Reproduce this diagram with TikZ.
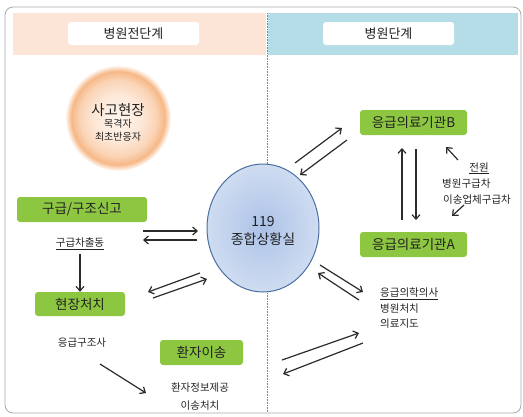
\documentclass[tikz,border=0pt]{standalone}
\usepackage{fontspec}
\setmainfont{Noto Sans CJK KR}
\usetikzlibrary{arrows.meta,shapes.geometric}
\definecolor{peach}{HTML}{FCE4D6}
\definecolor{skyband}{HTML}{B5DDE8}
\definecolor{boxgreen}{HTML}{8DC641}
\definecolor{arrowgray}{HTML}{2B2B2B}
\definecolor{txt}{HTML}{222222}
\definecolor{framegray}{HTML}{A8A8A8}
\definecolor{ringblue}{HTML}{4A70A2}
\definecolor{orA}{HTML}{FEF5EE}
\definecolor{orB}{HTML}{FDE8D8}
\definecolor{orC}{HTML}{FAD4B6}
\definecolor{orD}{HTML}{F6B887}
\definecolor{blA}{HTML}{A9C0E6}
\definecolor{blB}{HTML}{B9CCEB}
\definecolor{blC}{HTML}{CFDCF1}
\pgfdeclareradialshading{orangeglow}{\pgfpoint{0bp}{0bp}}{%
  color(0bp)=(orA); color(11bp)=(orB); color(18bp)=(orC);
  color(22bp)=(orD); color(25bp)=(white); color(50bp)=(white)}
\pgfdeclareradialshading{blueglow}{\pgfpoint{0bp}{0bp}}{%
  color(0bp)=(blA); color(9bp)=(blB); color(25bp)=(blC); color(50bp)=(blC)}
\begin{document}
\begin{tikzpicture}[x=1pt,y=-1pt,
  every node/.style={text=txt},
  greenbox/.style={fill=boxgreen, rounded corners=3pt, inner sep=0pt, minimum height=25pt, font=\fontsize{13.5}{16}\selectfont},
  hdrbox/.style={fill=white, rounded corners=3pt, inner sep=0pt, minimum width=131pt, minimum height=23pt, font=\fontsize{13}{15}\selectfont},
  small/.style={font=\fontsize{10.5}{12}\selectfont, inner sep=0pt},
  arr/.style={draw=arrowgray, line width=1.2pt, -{Straight Barb[length=4.5pt,width=8pt]}}
]
\useasboundingbox (0,0) rectangle (523,416);
% frame and bands
\fill[peach] (13,13) rectangle (266,55);
\fill[skyband] (268,13) rectangle (518,55);
\draw[framegray, line width=0.8pt, rounded corners=8pt] (5,7) rectangle (521,413);
\draw[gray, densely dotted, line width=0.6pt] (267,13) -- (267,412);
\node[hdrbox] (h1) at (133.5,33.5) {병원전단계};
\node[hdrbox] (h2) at (388.5,33.5) {병원단계};

% accident scene circle
\node[circle, minimum size=106pt, shading=orangeglow, inner sep=0pt] (scene) at (118,118) {};
\node[font=\fontsize{14.5}{17}\selectfont, inner sep=0pt] (sceneT) at (118,110) {사고현장};
\node[font=\fontsize{10}{12}\selectfont, inner sep=0pt] (sceneW) at (118,124) {목격자};
\node[font=\fontsize{10}{12}\selectfont, inner sep=0pt] (sceneF) at (118,137) {최초반응자};

% central circle
\node[ellipse, minimum width=112pt, minimum height=128pt, shading=blueglow, inner sep=0pt] (center) at (263,228) {};
\draw[ringblue, line width=1pt] (263,228) ellipse [x radius=56, y radius=64];
\node[font=\fontsize{14}{18}\selectfont, align=center, inner sep=0pt] (centerT) at (263,231) {119\\종합상황실};

% left side boxes
\node[greenbox, minimum width=130pt] (report) at (82,209.5) {구급/구조신고};
\node[small] (dispatch) at (80,244) {\underline{구급차출동}};
\node[greenbox, minimum width=90pt, minimum height=24pt] (scenecare) at (80,304) {현장처치};
\node[small] (emt) at (82,343) {응급구조사};
\node[greenbox, minimum width=83pt] (transfer) at (201.5,352.5) {환자이송};
\node[small] (info1) at (200,388) {환자정보제공};
\node[small] (info2) at (200,406) {이송처치};

% right side boxes
\node[greenbox, minimum width=107pt] (hospB) at (413.5,122.5) {응급의료기관B};
\node[greenbox, minimum width=107pt] (hospA) at (413.5,244.5) {응급의료기관A};
\node[small] (tr1) at (479,168) {\underline{전원}};
\node[small, anchor=west] (tr2) at (442,184) {병원구급차};
\node[small, anchor=west] (tr3) at (443,200) {이송업체구급차};
\node[small, anchor=west] (doc1) at (380,294) {\underline{응급의학의사}};
\node[small, anchor=west] (doc2) at (380,309) {병원처치};
\node[small, anchor=west] (doc3) at (380,324) {의료지도};

% coordinates for free arrows
\coordinate (a1s) at (143,231); \coordinate (a1e) at (198,231);
\coordinate (a2s) at (197,240); \coordinate (a2e) at (143,240);
\coordinate (a3s) at (200,273); \coordinate (a3e) at (148,292);
\coordinate (a4s) at (153,298); \coordinate (a4e) at (207,279);
\coordinate (a5s) at (295,163); \coordinate (a5e) at (342,128);
\coordinate (a6s) at (347,140); \coordinate (a6e) at (300,175);
\coordinate (a7s) at (402,220); \coordinate (a7e) at (402,148);
\coordinate (a8s) at (416,149); \coordinate (a8e) at (416,220);
\coordinate (a9s) at (458,160); \coordinate (a9e) at (446,147);
\coordinate (a10s) at (464,205); \coordinate (a10e) at (452,216);
\coordinate (a11s) at (320,265); \coordinate (a11e) at (363,292);
\coordinate (a12s) at (359,300); \coordinate (a12e) at (318,273);
\coordinate (a13s) at (282,360); \coordinate (a13e) at (359,333);
\coordinate (a14s) at (363,343); \coordinate (a14e) at (283,374);
\coordinate (a15s) at (100,364); \coordinate (a15e) at (146,393);

\draw[arr] (a1s) -- (a1e);
\draw[arr] (a2s) -- (a2e);
\draw[arr] (a3s) -- (a3e);
\draw[arr] (a4s) -- (a4e);
\draw[arr] (a5s) -- (a5e);
\draw[arr] (a6s) -- (a6e);
\draw[arr] (a7s) -- (a7e);
\draw[arr] (a8s) -- (a8e);
\draw[arr] (a9s) -- (a9e);
\draw[arr] (a10s) -- (a10e);
\draw[arr] (a11s) -- (a11e);
\draw[arr] (a12s) -- (a12e);
\draw[arr] (a13s) -- (a13e);
\draw[arr] (a14s) -- (a14e);
\draw[arr] (a15s) -- (a15e);
\draw[arr] (dispatch.south) ++(0,4) -- (scenecare.north);
\end{tikzpicture}
\end{document}
